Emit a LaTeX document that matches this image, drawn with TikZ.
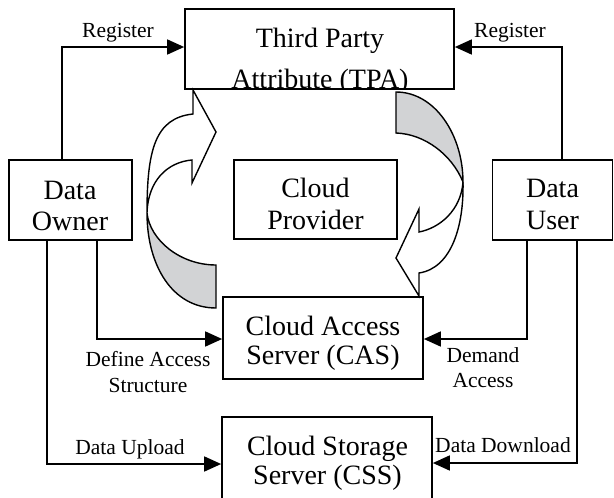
\documentclass[tikz,border=0pt]{standalone}
\usepackage{fontspec}
\setmainfont{Liberation Serif}
\usetikzlibrary{arrows.meta}
\definecolor{ribbon}{RGB}{210,211,213}
\begin{document}
\begin{tikzpicture}[x=1pt,y=-1pt,
  box/.style={draw, line width=1.7pt, inner sep=0pt},
  boxtext/.style={anchor=base, inner sep=0pt, font=\fontsize{28}{31}\selectfont},
  lbl/.style={anchor=base, inner sep=0pt, font=\fontsize{21.5}{25}\selectfont},
  flow/.style={line width=1.6pt, -{Triangle[length=17pt,width=15pt]}},
  ribbonline/.style={line width=1.4pt, line join=miter}]
\useasboundingbox (0,0) rectangle (614,498);
\clip (0,0) rectangle (614,498);

% boxes
\node[box, minimum width=269pt, minimum height=80pt] (tpa) at (319.5,49) {};
\node[box, minimum width=123pt, minimum height=80pt] (owner) at (70.5,200) {};
\node[box, minimum width=163pt, minimum height=79pt] (provider) at (315.5,199.5) {};
\node[box, minimum width=120pt, minimum height=80pt] (user) at (552.5,200) {};
\node[box, minimum width=200pt, minimum height=82pt] (cas) at (323,338) {};
\node[box, minimum width=210pt, minimum height=88pt] (css) at (327,461) {};

% box texts
\begin{scope}
  \clip (tpa.north west) rectangle (tpa.south east);
  \node[boxtext] (tpa1) at (320,47) {Third Party};
  \node[boxtext] (tpa2) at (320,88) {Attribute (TPA)};
\end{scope}
\node[boxtext] (owner1) at (70,199) {Data};
\node[boxtext] (owner2) at (70,230) {Owner};
\node[boxtext] (prov1) at (315.5,197) {Cloud};
\node[boxtext] (prov2) at (315.5,229) {Provider};
\node[boxtext] (user1) at (552.5,197) {Data};
\node[boxtext] (user2) at (552.5,229) {User};
\node[boxtext] (cas1) at (323,335) {Cloud Access};
\node[boxtext] (cas2) at (323,364) {Server (CAS)};
\node[boxtext] (css1) at (327.5,455) {Cloud Storage};
\node[boxtext] (css2) at (327.5,484) {Server (CSS)};

% connectors
\draw[flow] ([xshift=-8.5pt]owner.north) |- ([yshift=2pt]tpa.west);
\draw[flow] ([xshift=9.5pt]user.north) |- ([yshift=2pt]tpa.east);
\draw[flow] ([xshift=26.5pt]owner.south) |- ([yshift=-1pt]cas.west);
\draw[flow] ([xshift=-23.5pt]owner.south) |- ([yshift=-3pt]css.west);
\draw[flow] ([xshift=-25.5pt]user.south) |- ([yshift=-1pt]cas.east);
\draw[flow] ([xshift=24.5pt]user.south) |- ([yshift=-2pt]css.east);

% connector labels
\node[lbl] (reg1) at (118,37) {Register};
\node[lbl] (reg2) at (510,37) {Register};
\node[lbl] (def1) at (148,366) {Define Access};
\node[lbl] (def2) at (148,392) {Structure};
\node[lbl] (dem1) at (483,362) {Demand};
\node[lbl] (dem2) at (483,387) {Access};
\node[lbl] (up) at (130,454) {Data Upload};
\node[lbl] (down) at (503,452) {Data Download};

% left curved ribbon arrow (upwards, towards TPA)
\draw[ribbonline, fill=ribbon]
  (147,213) .. controls (150,240) and (180,265) .. (216,265)
  -- (216,308) .. controls (172,308) and (147,265) .. (147,213) -- cycle;
\draw[ribbonline, fill=white]
  (147,213) .. controls (147,150) and (155,118) .. (193,114)
  -- (193,90) -- (216,132) -- (192,183) -- (192,160)
  .. controls (168,162) and (148,180) .. (147,213) -- cycle;

% right curved ribbon arrow (downwards, towards CAS)
\draw[ribbonline, fill=ribbon]
  (396,92) .. controls (435,92) and (463,135) .. (463,182)
  .. controls (452,155) and (425,134) .. (396,133) -- cycle;
\draw[ribbonline, fill=white]
  (463,182) .. controls (464,225) and (452,268) .. (419,273)
  -- (419,296) -- (396,258) -- (419,209) -- (419,232)
  .. controls (440,228) and (461,210) .. (463,182) -- cycle;
\end{tikzpicture}
\end{document}
